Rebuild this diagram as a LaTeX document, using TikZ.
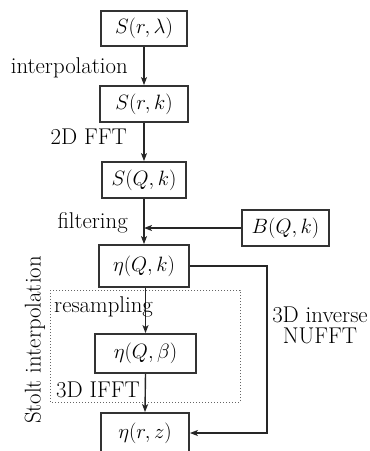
\documentclass[tikz,border=0pt]{standalone}
\usetikzlibrary{arrows.meta}
\begin{document}
\begin{tikzpicture}[x=1pt,y=-1pt,
  every node/.style={font=\fontsize{22.8}{21}\selectfont},
  box/.style={draw=black!80, line width=1.8pt, inner sep=0pt, minimum width=#1},
  box/.default=86pt,
  conn/.style={draw=black!85, line width=1.4pt, -{Stealth[length=8pt,width=6pt,inset=2pt]}},
  lbl/.style={inner sep=0pt, text=black}]
\useasboundingbox (0,0) rectangle (370,451);
\clip (0,0) rectangle (370,451);
\node[box=86pt, minimum height=35pt] (b1) at (144,28.5) {$S(r,\lambda)$};
\node[box=88pt, minimum height=36pt] (b2) at (144,104) {$S(r,k)$};
\node[box=84pt, minimum height=36pt] (b3) at (144,180) {$S(Q,k)$};
\node[box=87pt, minimum height=36pt] (bB) at (285.5,228) {$B(Q,k)$};
\node[box=90pt, minimum height=42pt] (b4) at (144,266) {$\eta(Q,k)$};
\node[box=101pt, minimum height=39pt] (b5) at (145.5,353.5) {$\eta(Q,\beta)$};
\node[box=88pt, minimum height=40pt] (b6) at (145,433) {$\eta(r,z)$};
\draw[black!60, line width=1pt, dotted] (50,290) rectangle (240,402);
\draw[conn] (b1.south) -- (b2.north);
\draw[conn] (b2.south) -- (b3.north);
\draw[conn] (b3.south) -- (b4.north);
\draw[conn] (bB.west) -- (b3.south |- bB.west);
\draw[conn] (b4.south -| b5.north) -- (b5.north);
\draw[conn] (b5.south) -- (b6.north);
\coordinate (r1) at (267,266);
\draw[conn] (b4.east |- r1) -- (r1) |- (b6.east);
\node[lbl, anchor=base east] (t1) at (128,73) {interpolation};
\node[lbl, anchor=base east] (t2) at (127,144) {2D FFT};
\node[lbl, anchor=base east] (t3) at (128,228) {filtering};
\node[lbl, anchor=base west] (t4) at (54,312) {resampling};
\node[lbl, anchor=base west] (t5) at (56,397) {3D IFFT};
\node[lbl, align=center, anchor=north] (t6) at (320,307) {3D inverse\\NUFFT};
\node[lbl, rotate=90] (t7) at (35,340) {Stolt interpolation};
\end{tikzpicture}
\end{document}
